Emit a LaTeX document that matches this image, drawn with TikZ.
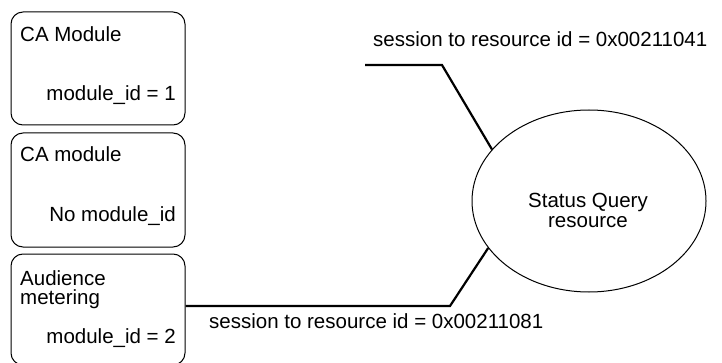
\documentclass[tikz,border=0pt]{standalone}
\usepackage{fontspec}
\setmainfont{Liberation Sans}
\usetikzlibrary{shapes.geometric}
\begin{document}
\begin{tikzpicture}[x=1pt,y=-1pt,
  txt/.style={inner sep=0pt,font=\fontsize{20.5}{19}\selectfont},
  modbox/.style={draw,line width=1pt,rounded corners=12pt,minimum width=174pt,inner sep=0pt},
  link/.style={draw,line width=2.2pt,line join=miter}]
  \useasboundingbox (0,0) rectangle (722,363);
  \begin{scope}
    \clip (0,0) rectangle (722,363);
    % module boxes
    \node[modbox,minimum height=113pt] (ca1) at (98,68.5) {};
    \node[modbox,minimum height=114pt] (ca2) at (98,190) {};
    \node[modbox,minimum height=111pt] (am) at (98,309.5) {};
  \end{scope}
  \node[txt,anchor=base west] (ca1t) at (20,42) {CA Module};
  \node[txt,anchor=base east] (ca1i) at (176,101) {module\_id = 1};
  \node[txt,anchor=base west] (ca2t) at (20,162) {CA module};
  \node[txt,anchor=base east] (ca2i) at (176,222) {No module\_id};
  \node[txt,anchor=base west] (amt) at (20,285) {Audience};
  \node[txt,anchor=base west] (amm) at (20,304) {metering};
  \node[txt,anchor=base east] (ami) at (176,343) {module\_id = 2};
  % resource
  \node[draw,ellipse,line width=1pt,minimum width=234pt,minimum height=182pt,inner sep=0pt] (sq) at (589,201) {};
  \node[txt,anchor=base] (sqt) at (588,208) {Status Query};
  \node[txt,anchor=base] (sqr) at (588,228) {resource};
  % sessions
  \coordinate (s1start) at (365,65);
  \coordinate (s1bend) at (442,65);
  \coordinate (s2bend) at (450,306);
  \draw[link] (s1start) -- (s1bend) -- (sq.152);
  \draw[link] (am.east |- s2bend) -- (s2bend) -- (sq.205);
  \node[txt,anchor=base west] (s1l) at (373,47) {session to resource id = 0x00211041};
  \node[txt,anchor=base west] (s2l) at (209,328) {session to resource id = 0x00211081};
\end{tikzpicture}
\end{document}
